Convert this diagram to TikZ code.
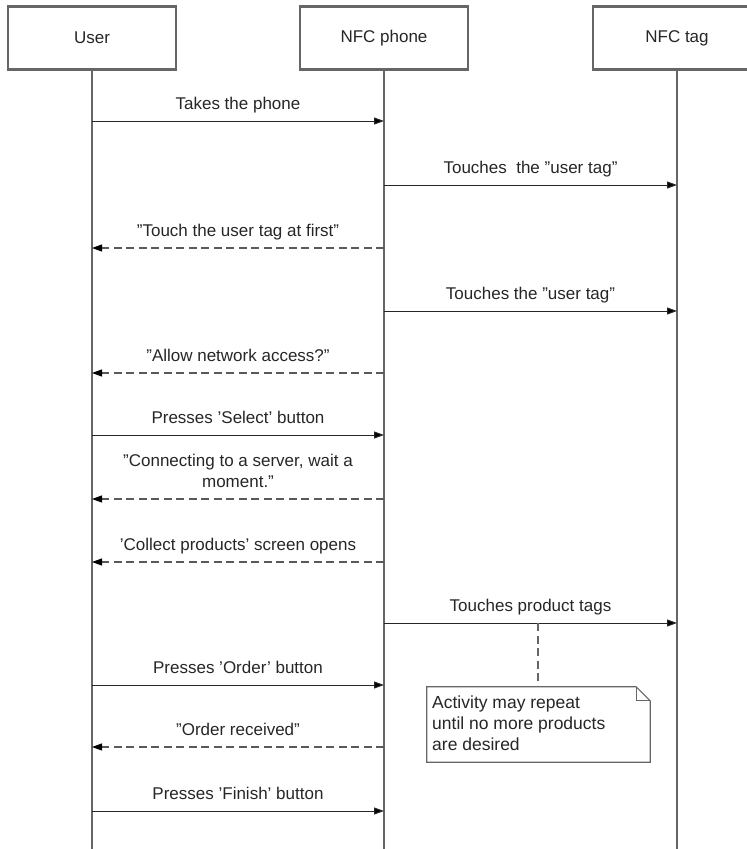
\documentclass[tikz,border=0pt]{standalone}
\usepackage{fontspec}
\setmainfont{Liberation Sans}
\usetikzlibrary{arrows.meta,calc}

\tikzset{
  actor/.style={draw=black!60, line width=2.8pt, fill=white, minimum width=168pt,
    minimum height=63pt, inner sep=0pt, text=black!85, font=\fontsize{17}{21}\selectfont},
  life/.style={draw=black!60, line width=2.8pt},
  call/.style={draw=black!85, line width=1pt, -{Triangle[length=10pt,width=7pt,fill=black]}},
  reply/.style={draw=black!65, line width=1.1pt, dash pattern=on 8pt off 4.5pt,
    -{Triangle[length=10pt,width=7pt,fill=black,color=black]}},
  lbl/.style={text=black!85, font=\fontsize{17}{21}\selectfont, align=center,
    anchor=base, inner sep=0pt},
  notebox/.style={draw=black!60, line width=1.2pt, fill=white},
  notelink/.style={draw=black!60, line width=1.2pt, dash pattern=on 8pt off 4.5pt}
}

% a message between two lifelines at height #4 with label #5
\newcommand\seqmsg[5]{%
  \draw[#1] (#2.center |- 0,#4) -- (#3.center |- 0,#4);
  \node[lbl] at ($(#2.center |- 0,#4)!0.5!(#3.center |- 0,#4) + (0,-12)$) {#5};
}

\begin{document}
\begin{tikzpicture}[x=1pt, y=-1pt]
\useasboundingbox (0,0) rectangle (747,849);
\clip (0,0) rectangle (747,849);

% participants
\node[actor] (user)  at (92,38)  {User};
\node[actor] (phone) at (384,38) {NFC phone};
\node[actor] (tag)   at (677,38) {NFC tag};

% lifelines
\foreach \p in {user,phone,tag}
  \draw[life] (\p.south) -- (\p.south |- 0,852);

\seqmsg{call}{user}{phone}{121}{Takes the phone}
\seqmsg{call}{phone}{tag}{185}{Touches\ \ the "user tag"}
\seqmsg{reply}{phone}{user}{248}{"Touch the user tag at first"}
\seqmsg{call}{phone}{tag}{311}{Touches the "user tag"}
\seqmsg{reply}{phone}{user}{373}{"Allow network access?"}
\seqmsg{call}{user}{phone}{435}{Presses 'Select' button}
\draw[reply] (phone.center |- 0,499) -- (user.center |- 0,499);
\node[lbl] at (238,466) {"Connecting to a server, wait a};
\node[lbl] at (238,487) {moment."};
\seqmsg{reply}{phone}{user}{562}{'Collect products' screen opens}
\seqmsg{call}{phone}{tag}{623}{Touches product tags}
\seqmsg{call}{user}{phone}{685}{Presses 'Order' button}
\seqmsg{reply}{phone}{user}{747}{"Order received"}
\seqmsg{call}{user}{phone}{811}{Presses 'Finish' button}

% note attached to the product-tag loop
\coordinate (loopmark) at (538,623);
\node[inner sep=0pt, minimum width=223pt, minimum height=75pt] (note) at (538.5,724.5) {};
\draw[notelink] (loopmark) -- (loopmark |- note.north);
\draw[notebox] (note.north west) -- ([xshift=-14pt]note.north east)
  -- ([yshift=-14pt]note.north east) -- (note.south east) -- (note.south west) -- cycle;
\draw[draw=black!60, line width=1.2pt] ([xshift=-14pt]note.north east)
  -- ([xshift=-14pt,yshift=-14pt]note.north east) -- ([yshift=-14pt]note.north east);
\begin{scope}[every node/.style={lbl, anchor=base west, align=left,
    font=\fontsize{17.5}{21}\selectfont}]
  \node at (432,708) {Activity may repeat};
  \node at (432,729) {until no more products};
  \node at (432,750) {are desired};
\end{scope}
\end{tikzpicture}
\end{document}
